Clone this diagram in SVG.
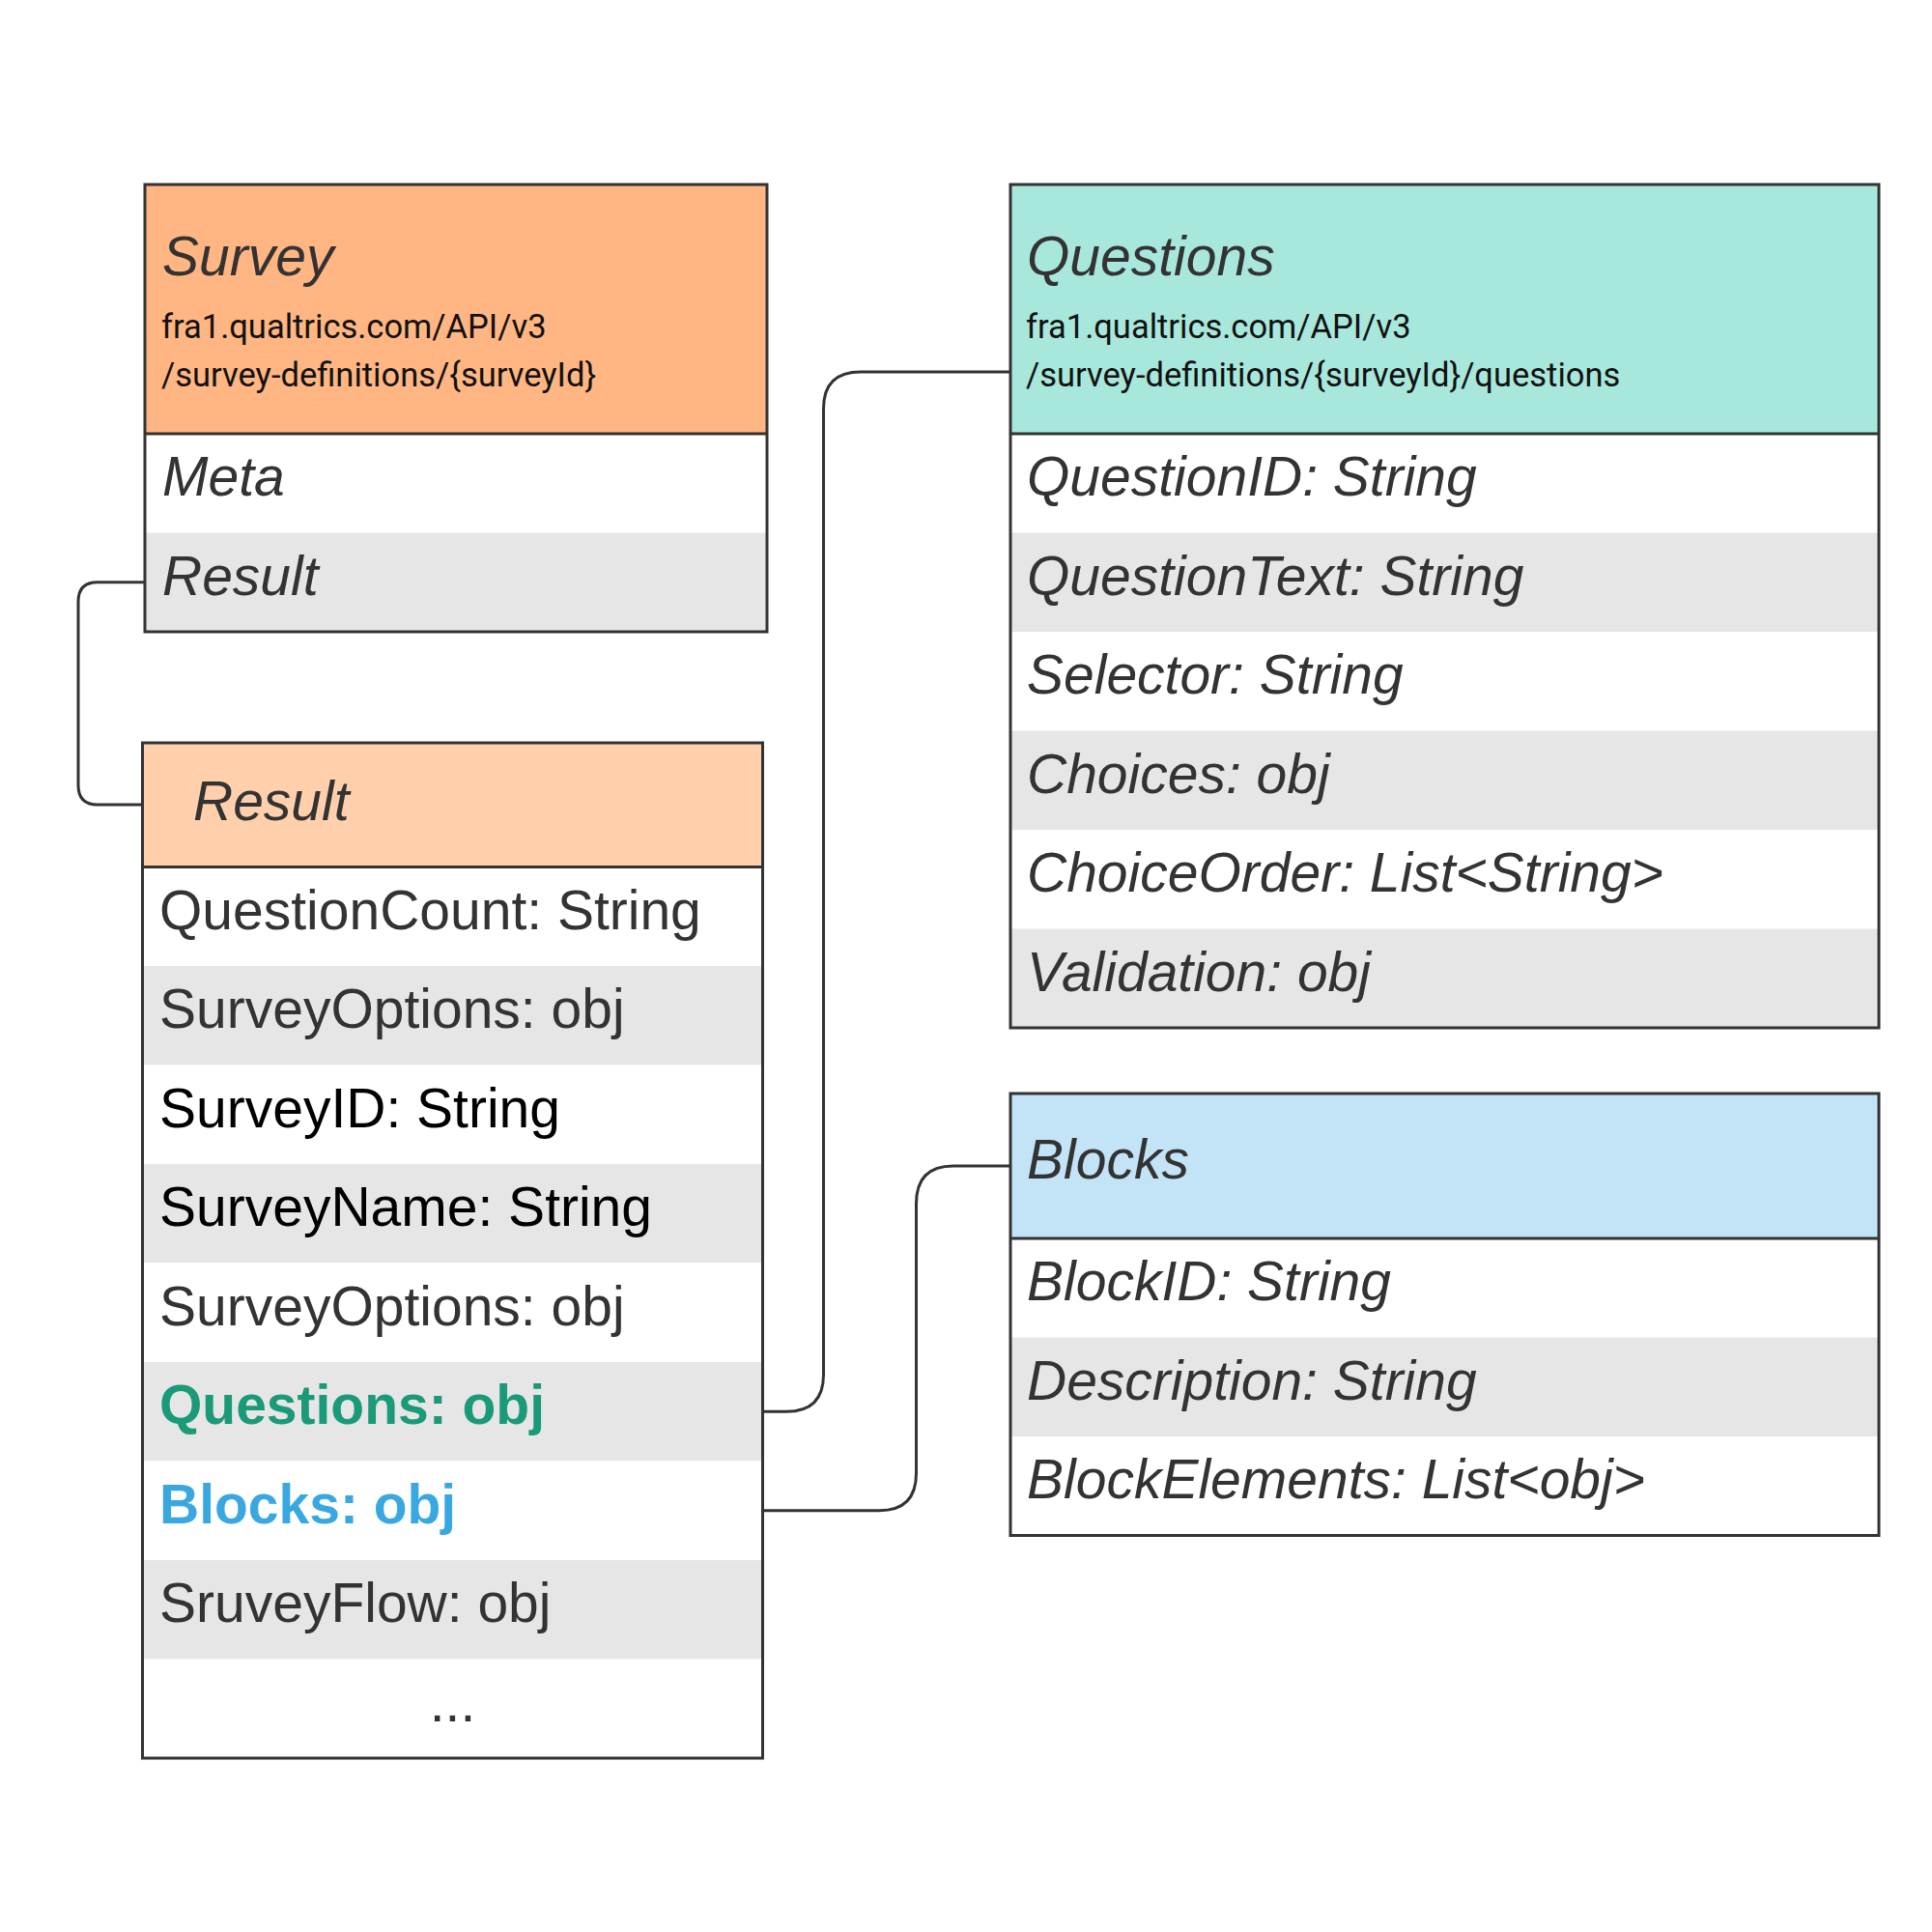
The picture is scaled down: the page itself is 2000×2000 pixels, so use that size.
<svg xmlns="http://www.w3.org/2000/svg" width="2000" height="2000" viewBox="0 0 2000 2000">
<style>
.bd{fill:none;stroke:#333;stroke-width:3}
.w{fill:#fff}
.g{fill:#e6e6e6}
.t{font-family:"Liberation Sans",Arial,sans-serif;font-size:57px;fill:#333}
.i{font-style:italic}
.b{fill:#000}
.u{font-family:Roboto,"Liberation Sans",sans-serif;font-size:34.5px;fill:#111}
.cn{fill:none;stroke:#333;stroke-width:3}
</style>
<rect width="2000" height="2000" fill="#fff"/>

<g id="connectors">
<path class="cn" d="M150,602.75 H101 Q81,602.75 81,622.75 V813 Q81,833 101,833 H147.5"/>
<path class="cn" d="M790,1461.25 H814 Q852.5,1461.25 852.5,1423 V423 Q852.5,385 891,385 H1046"/>
<path class="cn" d="M790,1563.75 H910 Q948.5,1563.75 948.5,1525 V1246 Q948.5,1207 987,1207 H1046"/>
</g>

<g id="survey">
<rect x="150" y="191" width="644" height="258" fill="#ffb682"/>
<rect class="w" x="150" y="449" width="644" height="102.5"/>
<rect class="g" x="150" y="551.5" width="644" height="102.5"/>
<line class="bd" x1="150" y1="449" x2="794" y2="449"/>
<rect class="bd" x="150" y="191" width="644" height="463"/>
<text class="t i" x="168" y="285">Survey</text>
<text class="u" x="167" y="350">fra1.qualtrics.com/API/v3</text>
<text class="u" x="167" y="400">/survey-definitions/{surveyId}</text>
<text class="t i" x="168" y="513">Meta</text>
<text class="t i" x="168" y="615.5">Result</text>
</g>

<g id="result">
<rect x="147.5" y="769" width="642" height="128.5" fill="#ffd0ab"/>
<rect class="w" x="147.5" y="897.5" width="642" height="102.5"/>
<rect class="g" x="147.5" y="1000" width="642" height="102.5"/>
<rect class="w" x="147.5" y="1102.5" width="642" height="102.5"/>
<rect class="g" x="147.5" y="1205" width="642" height="102.5"/>
<rect class="w" x="147.5" y="1307.5" width="642" height="102.5"/>
<rect class="g" x="147.5" y="1410" width="642" height="102.5"/>
<rect class="w" x="147.5" y="1512.5" width="642" height="102.5"/>
<rect class="g" x="147.5" y="1615" width="642" height="102.5"/>
<rect class="w" x="147.5" y="1717.5" width="642" height="102.5"/>
<line class="bd" x1="147.5" y1="897.5" x2="789.5" y2="897.5"/>
<rect class="bd" x="147.5" y="769" width="642" height="1051"/>
<text class="t i" x="200" y="849">Result</text>
<text class="t" x="165" y="961.5">QuestionCount: String</text>
<text class="t" x="165" y="1064">SurveyOptions: obj</text>
<text class="t b" x="165" y="1166.5">SurveyID: String</text>
<text class="t b" x="165" y="1269">SurveyName: String</text>
<text class="t" x="165" y="1371.5">SurveyOptions: obj</text>
<text class="t" x="165" y="1474" font-weight="bold" style="fill:#1a9a78">Questions: obj</text>
<text class="t" x="165" y="1576.5" font-weight="bold" style="fill:#3aa8e0">Blocks: obj</text>
<text class="t" x="165" y="1679">SruveyFlow: obj</text>
<text class="t" x="468.5" y="1781.5" text-anchor="middle">...</text>
</g>

<g id="questions">
<rect x="1046" y="191" width="899" height="258" fill="#a8e8dc"/>
<rect class="w" x="1046" y="449" width="899" height="102.5"/>
<rect class="g" x="1046" y="551.5" width="899" height="102.5"/>
<rect class="w" x="1046" y="654" width="899" height="102.5"/>
<rect class="g" x="1046" y="756.5" width="899" height="102.5"/>
<rect class="w" x="1046" y="859" width="899" height="102.5"/>
<rect class="g" x="1046" y="961.5" width="899" height="102.5"/>
<line class="bd" x1="1046" y1="449" x2="1945" y2="449"/>
<rect class="bd" x="1046" y="191" width="899" height="873"/>
<text class="t i" x="1063" y="285">Questions</text>
<text class="u" x="1062" y="350">fra1.qualtrics.com/API/v3</text>
<text class="u" x="1062" y="400">/survey-definitions/{surveyId}/questions</text>
<text class="t i" x="1063" y="513">QuestionID: String</text>
<text class="t i" x="1063" y="615.5">QuestionText: String</text>
<text class="t i" x="1063" y="718">Selector: String</text>
<text class="t i" x="1063" y="820.5">Choices: obj</text>
<text class="t i" x="1063" y="923">ChoiceOrder: List&lt;String&gt;</text>
<text class="t i" x="1063" y="1025.5">Validation: obj</text>
</g>

<g id="blocks">
<rect x="1046" y="1132" width="899" height="150" fill="#c2e4f6"/>
<rect class="w" x="1046" y="1282" width="899" height="102.5"/>
<rect class="g" x="1046" y="1384.5" width="899" height="102.5"/>
<rect class="w" x="1046" y="1487" width="899" height="102.5"/>
<line class="bd" x1="1046" y1="1282" x2="1945" y2="1282"/>
<rect class="bd" x="1046" y="1132" width="899" height="457.5"/>
<text class="t i" x="1063" y="1220">Blocks</text>
<text class="t i" x="1063" y="1346">BlockID: String</text>
<text class="t i" x="1063" y="1448.5">Description: String</text>
<text class="t i" x="1063" y="1551">BlockElements: List&lt;obj&gt;</text>
</g>
</svg>
